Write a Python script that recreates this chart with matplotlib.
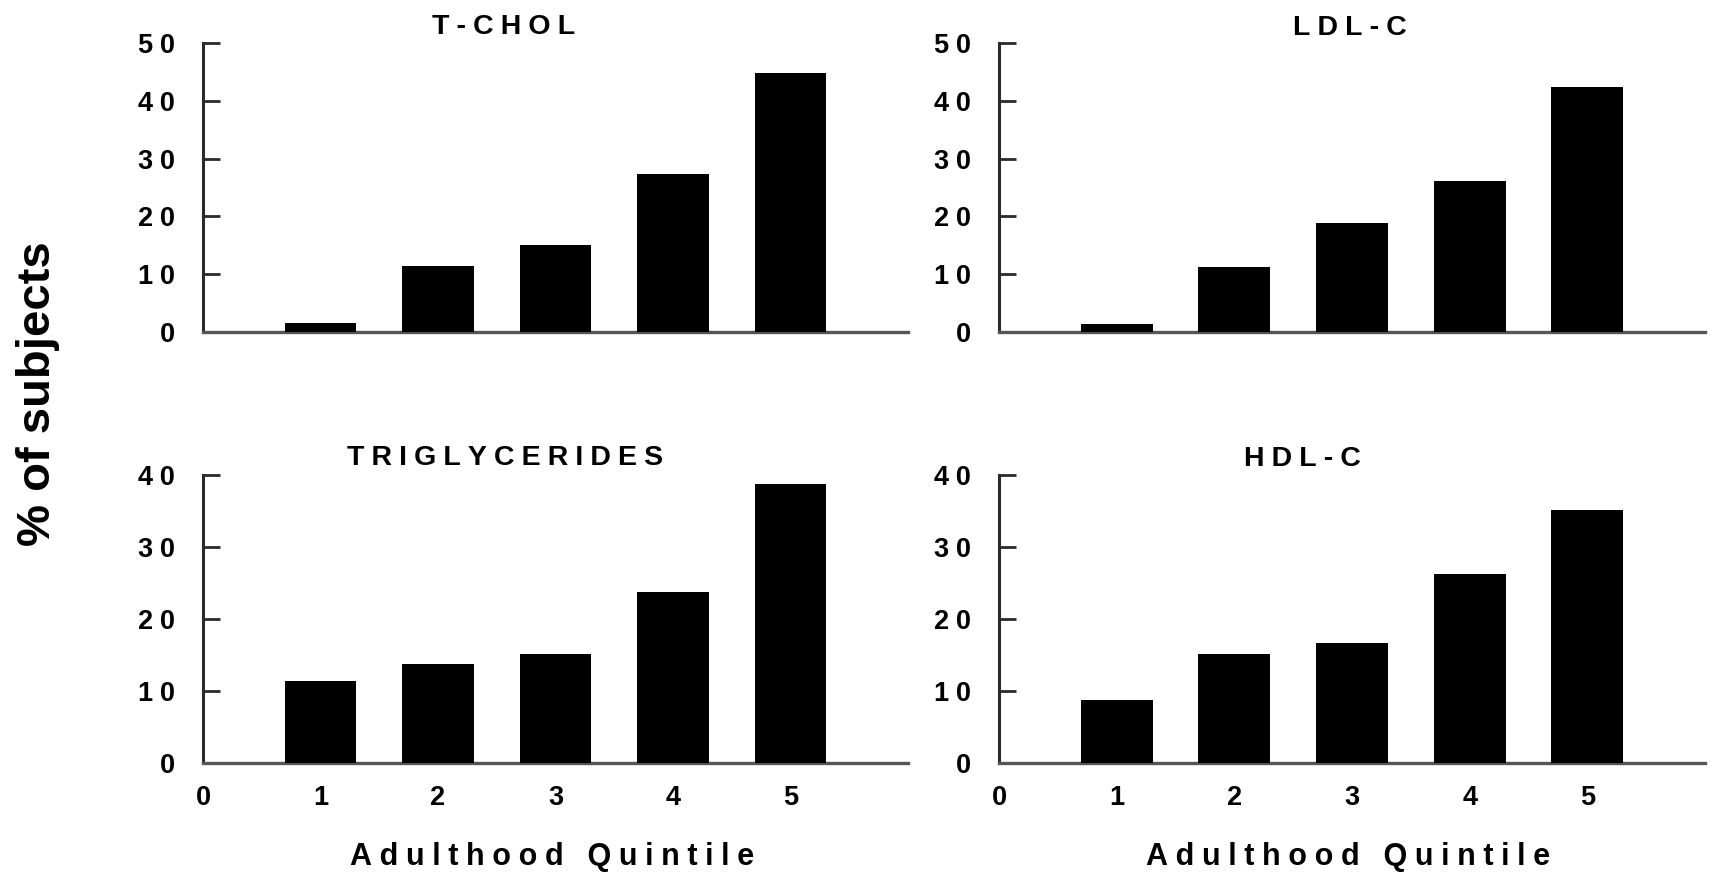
import matplotlib
matplotlib.use("Agg")
import matplotlib.pyplot as plt

plt.rcParams['font.family'] = ['Liberation Sans', 'DejaVu Sans']
plt.rcParams['font.weight'] = 'bold'

# ---- data ----
quintiles = [1, 2, 3, 4, 5]
xtick_labels = ["0", "1", "2", "3", "4", "5"]
tchol = [1.5, 11.4, 15.0, 27.3, 44.9]
ldl_c = [1.3, 11.2, 18.8, 26.2, 42.4]
triglycerides = [11.4, 13.7, 15.1, 23.8, 38.7]
hdl_c = [8.7, 15.1, 16.6, 26.2, 35.1]
top_yticks = [0, 10, 20, 30, 40, 50]
bottom_yticks = [0, 10, 20, 30, 40]
titles = ["T-CHOL", "LDL-C", "TRIGLYCERIDES", "HDL-C"]
xlabel = "Adulthood Quintile"
ylabel = "% of subjects"

SP = "\u2005"


def spaced(s, sep=SP):
    return sep.join(list(s))


W, H = 1712, 874
fig = plt.figure(figsize=(W / 100, H / 100), dpi=100)


def px_axes(x0, x1, ytop, ybot):
    return fig.add_axes([x0 / W, 1 - ybot / H, (x1 - x0) / W, (ybot - ytop) / H])


ax_tl = px_axes(203, 908, 43.3, 331.7)
ax_tr = px_axes(999, 1705, 43.3, 331.7)
ax_bl = px_axes(203, 908, 475, 763)
ax_br = px_axes(999, 1705, 475, 763)

panels = [
    (ax_tl, tchol, top_yticks, titles[0], (0.427, 1.056), False),
    (ax_tr, ldl_c, top_yticks, titles[1], (0.497, 1.053), False),
    (ax_bl, triglycerides, bottom_yticks, titles[2], (0.428, 1.059), True),
    (ax_br, hdl_c, bottom_yticks, titles[3], (0.430, 1.056), True),
]

for ax, vals, yt, title, tpos, bottom in panels:
    ax.bar(quintiles, vals, width=0.61, color='black', edgecolor='none', zorder=3)
    ax.set_xlim(0, 6)
    ax.set_ylim(0, yt[-1])
    for s in ['top', 'right']:
        ax.spines[s].set_visible(False)
    ax.spines['left'].set_color('#2a2a2a')
    ax.spines['left'].set_linewidth(2.2)
    ax.spines['bottom'].set_color('#555555')
    ax.spines['bottom'].set_linewidth(2.4)
    ax.set_yticks(yt)
    ax.set_yticklabels([spaced(str(t)) for t in yt])
    ax.tick_params(axis='y', direction='in', length=12, width=2.0,
                   color='#2a2a2a', pad=20, labelsize=19.5)
    if bottom:
        ax.set_xticks(range(len(xtick_labels)))
        ax.set_xticklabels(xtick_labels)
        ax.tick_params(axis='x', length=0, pad=16, labelsize=19.5)
        ax.text(0.495, -0.326, spaced(xlabel), transform=ax.transAxes,
                ha='center', va='center', fontsize=22, fontweight='bold')
    else:
        ax.set_xticks([])
    for lab in ax.get_xticklabels() + ax.get_yticklabels():
        lab.set_fontweight('bold')
    ax.text(tpos[0], tpos[1], spaced(title), transform=ax.transAxes,
            ha='center', va='center', fontsize=20.5, fontweight='bold')

fig.text(38 / W, 1 - 393.5 / H, ylabel, rotation=90, ha='center', va='center',
         fontsize=34, fontweight='bold')

fig.savefig("out.png", dpi=100)
